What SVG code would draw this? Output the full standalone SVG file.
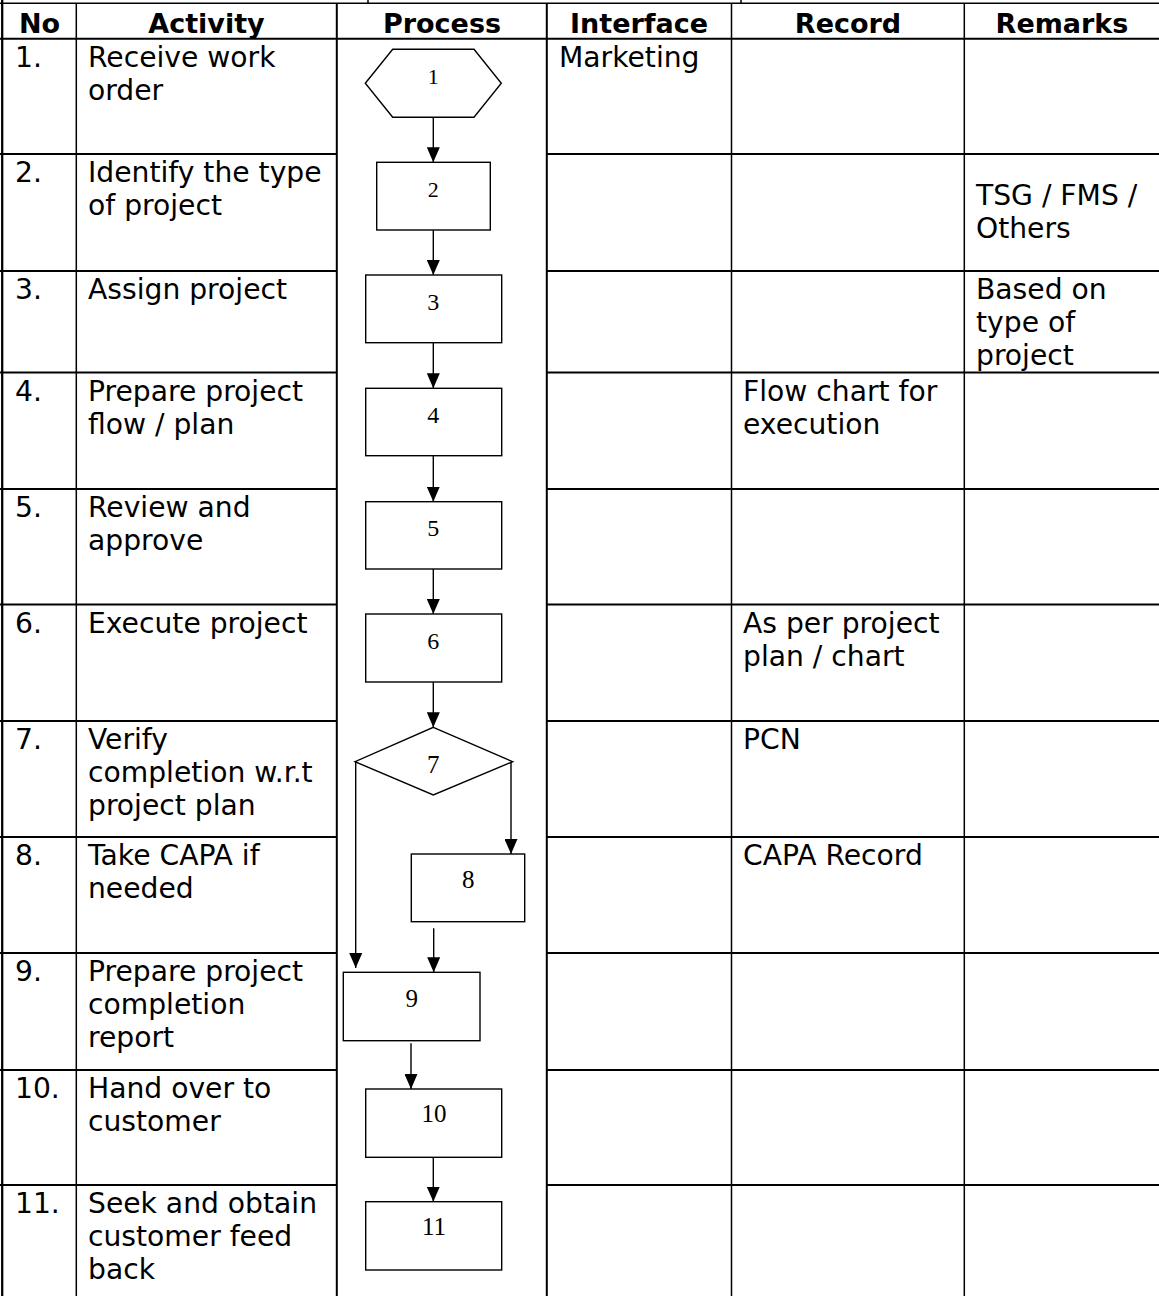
<svg xmlns="http://www.w3.org/2000/svg" width="1159" height="1296" viewBox="0 0 1159 1296">
<style>
.bg{fill:#fff}
.g1{stroke:#000;stroke-width:2;fill:none}
.g2{stroke:#000;stroke-width:1.5;fill:none}
.t{font-family:"DejaVu Sans",Verdana,sans-serif;font-size:28.2px;fill:#000}
.h{font-family:"DejaVu Sans",Verdana,sans-serif;font-size:27px;font-weight:bold;fill:#000;text-anchor:middle}
.shape{fill:#fff;stroke:#000;stroke-width:1.4}
.n{font-family:"Liberation Serif","Times New Roman",serif;fill:#000;text-anchor:middle}
.c{stroke:#000;stroke-width:1.4;fill:none;marker-end:url(#ah)}
</style>
<defs>
<marker id="ah" markerUnits="userSpaceOnUse" markerWidth="15" markerHeight="13" refX="15" refY="6.5" orient="auto">
<path d="M0,0 L15,6.5 L0,13 z" fill="#000"/>
</marker>
</defs>
<rect class="bg" x="0" y="0" width="1159" height="1296"/>
<g id="grid">
<line class="g2" x1="0" y1="3.3" x2="1159" y2="3.3"/>
<line class="g2" x1="368" y1="0" x2="368" y2="3.3"/>
<line class="g2" x1="741" y1="0" x2="741" y2="3.3"/>
<line stroke="#000" stroke-width="2.3" x1="2.2" y1="0" x2="2.2" y2="1296"/>
<line class="g2" x1="76.3" y1="3.3" x2="76.3" y2="1296"/>
<line class="g1" x1="336.8" y1="3.3" x2="336.8" y2="1296"/>
<line class="g1" x1="546.8" y1="3.3" x2="546.8" y2="1296"/>
<line class="g2" x1="731.5" y1="3.3" x2="731.5" y2="1296"/>
<line class="g2" x1="964.3" y1="3.3" x2="964.3" y2="1296"/>
<line class="g1" x1="0" y1="38.7" x2="1159" y2="38.7"/>
<path class="g1" d="M0,154H337M0,271H337M0,372.5H337M0,489H337M0,604.5H337M0,721H337M0,837H337M0,953H337M0,1070H337M0,1185H337"/>
<path class="g1" d="M547,154H1159M547,271H1159M547,372.5H1159M547,489H1159M547,604.5H1159M547,721H1159M547,837H1159M547,953H1159M547,1070H1159M547,1185H1159"/>
</g>
<g id="header">
<text class="h" x="39.5" y="33">No</text>
<text class="h" x="206.5" y="33">Activity</text>
<text class="h" x="442" y="33">Process</text>
<text class="h" x="639" y="33">Interface</text>
<text class="h" x="848" y="33">Record</text>
<text class="h" x="1062" y="33">Remarks</text>
</g>
<g id="row1" class="t">
<text x="15" y="66.7">1.</text>
<text x="88" y="66.7">Receive work</text>
<text x="88" y="99.7">order</text>
<text x="559" y="66.7">Marketing</text>
</g>
<g id="row2" class="t">
<text x="15" y="182">2.</text>
<text x="88" y="182">Identify the type</text>
<text x="88" y="215">of project</text>
<text x="976" y="205">TSG / FMS /</text>
<text x="976" y="238">Others</text>
</g>
<g id="row3" class="t">
<text x="15" y="299">3.</text>
<text x="88" y="299">Assign project</text>
<text x="976" y="299">Based on</text>
<text x="976" y="332">type of</text>
<text x="976" y="365">project</text>
</g>
<g id="row4" class="t">
<text x="15" y="400.5">4.</text>
<text x="88" y="400.5">Prepare project</text>
<text x="88" y="433.5">flow / plan</text>
<text x="743" y="400.5">Flow chart for</text>
<text x="743" y="433.5">execution</text>
</g>
<g id="row5" class="t">
<text x="15" y="517">5.</text>
<text x="88" y="517">Review and</text>
<text x="88" y="550">approve</text>
</g>
<g id="row6" class="t">
<text x="15" y="632.5">6.</text>
<text x="88" y="632.5">Execute project</text>
<text x="743" y="632.5">As per project</text>
<text x="743" y="665.5">plan / chart</text>
</g>
<g id="row7" class="t">
<text x="15" y="749">7.</text>
<text x="88" y="749">Verify</text>
<text x="88" y="782">completion w.r.t</text>
<text x="88" y="815">project plan</text>
<text x="743" y="749">PCN</text>
</g>
<g id="row8" class="t">
<text x="15" y="865">8.</text>
<text x="88" y="865">Take CAPA if</text>
<text x="88" y="898">needed</text>
<text x="743" y="865">CAPA Record</text>
</g>
<g id="row9" class="t">
<text x="15" y="981">9.</text>
<text x="88" y="981">Prepare project</text>
<text x="88" y="1014">completion</text>
<text x="88" y="1047">report</text>
</g>
<g id="row10" class="t">
<text x="15" y="1098">10.</text>
<text x="88" y="1098">Hand over to</text>
<text x="88" y="1131">customer</text>
</g>
<g id="row11" class="t">
<text x="15" y="1213">11.</text>
<text x="88" y="1213">Seek and obtain</text>
<text x="88" y="1246">customer feed</text>
<text x="88" y="1279">back</text>
</g>
<g id="connectors">
<line class="c" x1="433.3" y1="117.3" x2="433.3" y2="162.3"/>
<line class="c" x1="433.3" y1="230" x2="433.3" y2="275"/>
<line class="c" x1="433.3" y1="342.7" x2="433.3" y2="388.3"/>
<line class="c" x1="433.3" y1="455.7" x2="433.3" y2="501.7"/>
<line class="c" x1="433.3" y1="569" x2="433.3" y2="614"/>
<line class="c" x1="433.3" y1="682" x2="433.3" y2="727.3"/>
<line class="c" x1="511" y1="761.7" x2="511" y2="854"/>
<line class="c" x1="355.7" y1="761.7" x2="355.7" y2="968"/>
<line class="c" x1="433.7" y1="928.3" x2="433.7" y2="972.3"/>
<line class="c" x1="411" y1="1043.3" x2="411" y2="1089"/>
<line class="c" x1="433.3" y1="1157.3" x2="433.3" y2="1201.7"/>
</g>
<g id="node1">
<polygon class="shape" points="365.3,83.3 392.7,49.3 474,49.3 501.3,83.3 474,117.3 392.7,117.3"/>
<text class="n" x="433.3" y="84" font-size="22">1</text>
</g>
<g id="node2">
<rect class="shape" x="376.7" y="162.3" width="113.6" height="67.7"/>
<text class="n" x="433.3" y="196.7" font-size="22">2</text>
</g>
<g id="node3">
<rect class="shape" x="365.7" y="275" width="136" height="67.7"/>
<text class="n" x="433.3" y="310" font-size="24">3</text>
</g>
<g id="node4">
<rect class="shape" x="365.7" y="388.3" width="136" height="67.4"/>
<text class="n" x="433.3" y="422.7" font-size="24">4</text>
</g>
<g id="node5">
<rect class="shape" x="365.7" y="501.7" width="136" height="67.3"/>
<text class="n" x="433.3" y="535.7" font-size="24">5</text>
</g>
<g id="node6">
<rect class="shape" x="365.7" y="614" width="136" height="68"/>
<text class="n" x="433.3" y="649" font-size="24">6</text>
</g>
<g id="node7">
<polygon class="shape" points="433.3,727.3 512.7,761.7 433.3,795 355,761.7"/>
<text class="n" x="433.3" y="772.7" font-size="25">7</text>
</g>
<g id="node8">
<rect class="shape" x="411.3" y="854" width="113.4" height="67.7"/>
<text class="n" x="468.3" y="887.7" font-size="25">8</text>
</g>
<g id="node9">
<rect class="shape" x="343.3" y="972.3" width="136.7" height="68.4"/>
<text class="n" x="411.7" y="1007.3" font-size="25">9</text>
</g>
<g id="node10">
<rect class="shape" x="365.7" y="1089" width="136" height="68.3"/>
<text class="n" x="434" y="1122.3" font-size="25">10</text>
</g>
<g id="node11">
<rect class="shape" x="365.7" y="1201.7" width="136" height="68.3"/>
<text class="n" x="434" y="1235" font-size="25">11</text>
</g>
</svg>
